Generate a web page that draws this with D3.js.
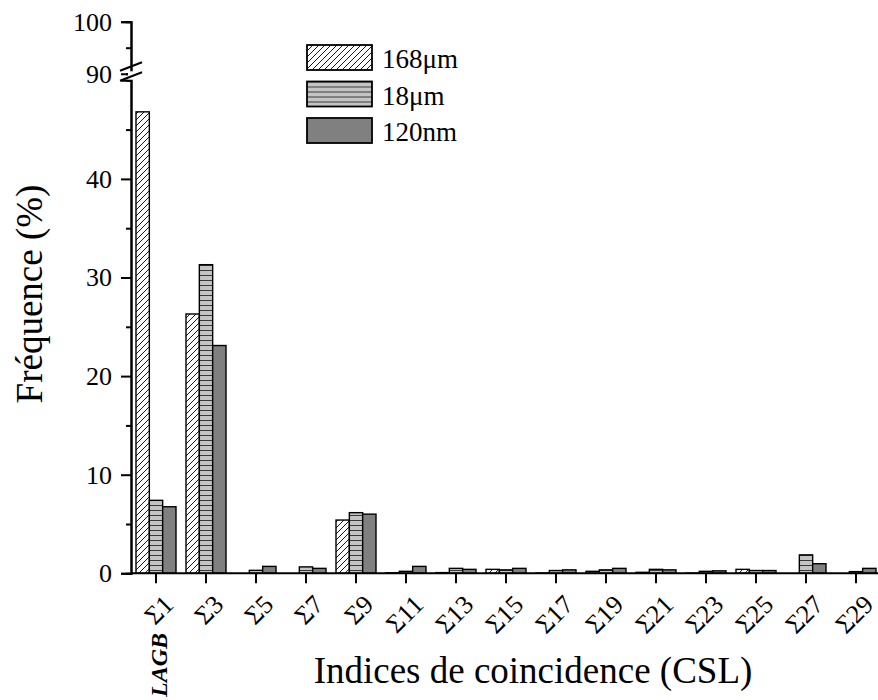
<!DOCTYPE html>
<html>
<head>
<meta charset="utf-8">
<style>
    body { margin: 0; background: #fff; }
</style>
<script src="https://d3js.org/d3.v7.min.js"></script>
</head>
<body>

<svg width="878" height="700"></svg>

<script>
    // data
    var categories = ["Σ1", "Σ3", "Σ5", "Σ7", "Σ9", "Σ11", "Σ13", "Σ15", "Σ17", "Σ19", "Σ21", "Σ23", "Σ25", "Σ27", "Σ29"];
    var series = ["168μm", "18μm", "120nm"];
    var v168um = [46.8, 26.3, 0, 0, 5.4, 0.05, 0.07, 0.4, 0.03, 0.2, 0.1, 0.02, 0.4, 0, 0];
    var v18um  = [7.4, 31.3, 0.3, 0.65, 6.15, 0.2, 0.5, 0.35, 0.28, 0.35, 0.4, 0.2, 0.28, 1.87, 0.17];
    var v120nm = [6.75, 23.1, 0.7, 0.5, 6.0, 0.7, 0.4, 0.5, 0.35, 0.5, 0.35, 0.25, 0.28, 0.97, 0.5];
    var lowTicks = [0, 10, 20, 30, 40];
    var lowMinor = [5, 15, 25, 35, 45];
    var highTicks = [90, 100];
    var highMinor = [95];

    var serif = "'Liberation Serif', 'Times New Roman', serif";
    var values = [v168um, v18um, v120nm];
    var fills = ["url(#hatch)", "url(#stripes)", "#808080"];

    var svg = d3.select("svg");

    // patterns
    var defs = svg.append("defs");
    var hatch = defs.append("pattern")
        .attr("id", "hatch")
        .attr("patternUnits", "userSpaceOnUse")
        .attr("width", 6).attr("height", 6);
    hatch.append("rect").attr("width", 6).attr("height", 6).attr("fill", "#fff");
    hatch.append("path")
        .attr("d", "M-1,1 l2,-2 M0,6 l6,-6 M5,7 l2,-2")
        .attr("stroke", "#000").attr("stroke-width", 0.9);

    var stripes = defs.append("pattern")
        .attr("id", "stripes")
        .attr("patternUnits", "userSpaceOnUse")
        .attr("width", 10).attr("height", 5);
    stripes.append("rect").attr("width", 10).attr("height", 5).attr("fill", "#c4c4c4");
    stripes.append("rect").attr("y", 0).attr("width", 10).attr("height", 1).attr("fill", "#3a3a3a");

    // scales
    var x = d3.scaleBand()
        .domain(categories)
        .range([131, 881])
        .paddingInner(0.2)
        .paddingOuter(0.1);
    var xs = d3.scaleBand()
        .domain(series)
        .range([0, x.bandwidth()]);
    var yLow = d3.scaleLinear().domain([0, 50]).range([573.3, 80.3]);
    var yHigh = d3.scaleLinear().domain([90, 100]).range([73.7, 21.7]);

    // bars
    var groups = svg.append("g").selectAll("g")
        .data(categories)
        .enter().append("g")
        .attr("transform", function (d) { return "translate(" + x(d) + ",0)"; });

    series.forEach(function (s, si) {
        groups.append("rect")
            .attr("x", xs(s))
            .attr("y", function (d, i) { return yLow(values[si][i]); })
            .attr("width", xs.bandwidth())
            .attr("height", function (d, i) { return yLow(0) - yLow(values[si][i]); })
            .attr("fill", fills[si])
            .attr("stroke", "#000")
            .attr("stroke-width", 1.4);
    });

    // y axis, lower part
    var yAxisLow = d3.axisLeft(yLow).tickValues(lowTicks).tickSize(10).tickPadding(9).tickFormat(d3.format("d"));
    var gLow = svg.append("g").attr("transform", "translate(131,0)").call(yAxisLow);
    svg.append("g").attr("transform", "translate(131,0)")
        .call(d3.axisLeft(yLow).tickValues(lowMinor).tickSize(5).tickFormat(""));

    // y axis, upper part
    var yAxisHigh = d3.axisLeft(yHigh).tickValues(highTicks).tickSize(10).tickPadding(9).tickFormat(d3.format("d"));
    var gHigh = svg.append("g").attr("transform", "translate(131,0)").call(yAxisHigh);
    svg.append("g").attr("transform", "translate(131,0)")
        .call(d3.axisLeft(yHigh).tickValues(highMinor).tickSize(5).tickFormat(""));
    gHigh.selectAll(".tick").filter(function (d) { return d === 90; }).select("line").remove();

    svg.selectAll(".domain").attr("stroke-width", 2);
    svg.selectAll(".tick line").attr("stroke-width", 2);
    svg.selectAll("g").attr("font-family", null).attr("font-size", null);
    gLow.selectAll("text").attr("font-family", serif).attr("font-size", 26).attr("fill", "#000");
    gHigh.selectAll("text").attr("font-family", serif).attr("font-size", 26).attr("fill", "#000");

    // axis break marks
    var brk = svg.append("g").attr("transform", "translate(131," + yLow(50) + ")");
    brk.append("rect").attr("x", -3).attr("y", -9).attr("width", 6).attr("height", 8).attr("fill", "#fff");
    brk.append("line").attr("x1", -11).attr("y1", 0.5).attr("x2", 11).attr("y2", -8)
        .attr("stroke", "#000").attr("stroke-width", 2);
    brk.append("line").attr("x1", -11).attr("y1", -9.5).attr("x2", 11).attr("y2", -18)
        .attr("stroke", "#000").attr("stroke-width", 2);

    // x axis
    var xAxis = d3.axisBottom(x).tickSize(10).tickFormat("");
    var gx = svg.append("g").attr("transform", "translate(0," + yLow(0) + ")").call(xAxis);
    gx.select(".domain").attr("d", "M131,0H878").attr("stroke-width", 2);
    gx.selectAll(".tick line").attr("stroke-width", 2);

    svg.append("g").selectAll("text")
        .data(categories)
        .enter().append("text")
        .attr("text-anchor", "end")
        .attr("transform", function (d) {
            return "translate(" + (x(d) + x.bandwidth() / 2 + 19) + ",606) rotate(-45)";
        })
        .attr("font-family", serif)
        .attr("font-size", 26)
        .text(function (d) { return d; });

    svg.append("text")
        .attr("transform", "translate(167,697) rotate(-90)")
        .attr("font-family", serif)
        .attr("font-size", 24)
        .attr("font-weight", "bold")
        .attr("font-style", "italic")
        .text("LAGB");

    // axis titles
    svg.append("text")
        .attr("x", 533).attr("y", 683)
        .attr("text-anchor", "middle")
        .attr("font-family", serif)
        .attr("font-size", 37)
        .text("Indices de coincidence (CSL)");

    svg.append("text")
        .attr("transform", "translate(42,294) rotate(-90)")
        .attr("text-anchor", "middle")
        .attr("font-family", serif)
        .attr("font-size", 37)
        .text("Fréquence (%)");

    // legend
    var legend = svg.append("g").attr("transform", "translate(307,45)");
    var items = legend.selectAll("g")
        .data(series)
        .enter().append("g")
        .attr("transform", function (d, i) { return "translate(0," + (i * 36.5) + ")"; });
    items.append("rect")
        .attr("width", 65).attr("height", 25)
        .attr("fill", function (d, i) { return fills[i]; })
        .attr("stroke", "#000").attr("stroke-width", 1.8);
    items.append("text")
        .attr("x", 75).attr("y", 23)
        .attr("font-family", serif)
        .attr("font-size", 27)
        .text(function (d) { return d; });
</script>
</body>
</html>
